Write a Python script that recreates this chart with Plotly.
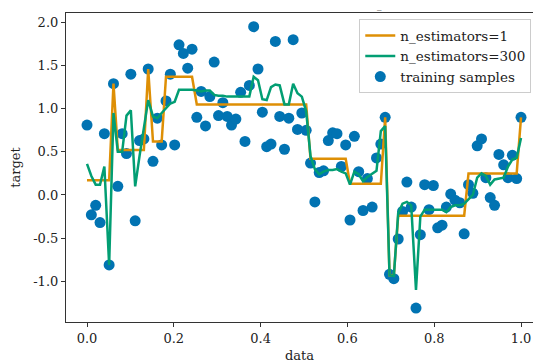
import plotly.graph_objects as go

x_vals = [0.000,0.010,0.020,0.030,0.040,0.051,0.061,0.071,0.081,0.091,
          0.101,0.111,0.121,0.131,0.141,0.152,0.162,0.172,0.182,0.192,
          0.202,0.212,0.222,0.232,0.242,0.253,0.263,0.273,0.283,0.293,
          0.303,0.313,0.323,0.333,0.343,0.354,0.364,0.374,0.384,0.394,
          0.404,0.414,0.424,0.434,0.444,0.455,0.465,0.475,0.485,0.495,
          0.505,0.515,0.525,0.535,0.545,0.556,0.566,0.576,0.586,0.596,
          0.606,0.616,0.626,0.636,0.646,0.657,0.667,0.677,0.687,0.697,
          0.707,0.717,0.727,0.737,0.747,0.758,0.768,0.778,0.788,0.798,
          0.808,0.818,0.828,0.838,0.848,0.859,0.869,0.879,0.889,0.899,
          0.909,0.919,0.929,0.939,0.949,0.960,0.970,0.980,0.990,1.000]

y_samples = [0.81,-0.23,-0.12,-0.32,0.71,-0.81,1.29,0.10,0.71,0.48,
             1.40,-0.30,0.63,0.65,1.46,0.39,0.89,0.58,1.09,1.40,
             0.58,1.74,1.64,1.47,1.69,0.90,1.20,0.80,1.14,1.54,
             0.92,1.07,0.91,0.81,0.88,1.19,0.62,1.27,1.95,1.46,
             0.96,0.56,0.59,1.78,0.91,0.53,0.89,1.80,0.76,0.95,
             0.75,0.37,-0.08,0.26,0.28,0.63,0.72,0.71,0.33,0.58,
             -0.29,0.68,0.27,-0.18,0.19,-0.14,0.43,0.59,0.90,-0.92,
             -0.97,-0.51,-0.19,0.15,-0.14,-1.31,-0.46,0.12,-0.17,0.11,
             -0.38,-0.35,-0.14,0.01,-0.06,-0.09,-0.45,0.12,0.02,0.57,
             0.65,0.20,-0.03,-0.12,0.47,0.35,0.20,0.46,0.19,0.90]

y_n1 = [0.17,0.17,0.17,0.17,0.17,0.17,1.29,0.52,0.52,0.52,
        0.52,0.52,0.52,0.52,1.46,0.62,0.62,0.62,1.37,1.37,
        1.37,1.37,1.37,1.37,1.37,1.05,1.05,1.05,1.05,1.05,
        1.05,1.05,1.05,1.05,1.05,1.05,1.05,1.05,1.05,1.05,
        1.05,1.05,1.05,1.05,1.05,1.05,1.05,1.05,1.05,1.05,
        1.05,0.42,0.42,0.42,0.42,0.42,0.42,0.42,0.42,0.42,
        0.13,0.13,0.13,0.13,0.13,0.13,0.13,0.13,0.90,-0.93,
        -0.93,-0.24,-0.24,-0.24,-0.24,-0.24,-0.24,-0.24,-0.24,-0.24,
        -0.24,-0.24,-0.24,-0.24,-0.24,-0.24,-0.24,0.25,0.25,0.25,
        0.25,0.25,0.25,0.25,0.25,0.25,0.25,0.25,0.25,0.90]

y_n300 = [0.36,0.22,0.12,0.12,0.33,-0.81,0.95,0.50,0.50,0.92,
          0.98,0.10,0.45,0.78,1.10,0.91,0.89,0.95,1.00,1.06,
          1.08,1.22,1.22,1.22,1.22,1.21,1.20,1.21,1.21,1.16,
          1.15,1.15,1.14,1.14,1.14,1.14,1.14,1.14,1.37,1.33,
          1.11,1.10,1.25,1.28,1.27,1.05,1.05,1.29,1.18,1.14,
          0.97,0.45,0.30,0.24,0.27,0.29,0.29,0.30,0.27,0.25,
          0.12,0.27,0.24,0.16,0.21,0.25,0.28,0.74,0.80,-0.93,
          -0.94,-0.21,-0.10,-0.08,-0.12,-1.10,-0.25,-0.17,-0.17,-0.17,
          -0.17,-0.17,-0.20,-0.14,-0.12,-0.12,-0.10,-0.05,0.00,0.20,
          0.25,0.22,0.12,0.18,0.19,0.20,0.33,0.41,0.43,0.66]

x_ticks = [0.0, 0.2, 0.4, 0.6, 0.8, 1.0]
x_ticktext = ["0.0", "0.2", "0.4", "0.6", "0.8", "1.0"]
y_ticks = [-1.0, -0.5, 0.0, 0.5, 1.0, 1.5, 2.0]
y_ticktext = ["-1.0", "-0.5", "0.0", "0.5", "1.0", "1.5", "2.0"]

BLUE = "#0173b2"
ORANGE = "#de8f05"
GREEN = "#029e73"
FONT = "DejaVu Serif"

fig = go.Figure()
fig.add_trace(go.Scatter(x=x_vals, y=y_samples, mode="markers", name="training samples",
                         marker=dict(color=BLUE, size=11, line=dict(width=0)), legendrank=3))
fig.add_trace(go.Scatter(x=x_vals, y=y_n1, mode="lines", name="n_estimators=1",
                         line=dict(color=ORANGE, width=2.5), legendrank=1))
fig.add_trace(go.Scatter(x=x_vals, y=y_n300, mode="lines", name="n_estimators=300",
                         line=dict(color=GREEN, width=2.5), legendrank=2))

fig.update_layout(
    width=533, height=363,
    margin=dict(l=66, r=0, t=13, b=41),
    paper_bgcolor="white", plot_bgcolor="white",
    font=dict(family=FONT, size=13, color="#222"),
    showlegend=True,
    legend=dict(x=0.628, y=0.98, xanchor="left", yanchor="top",
                bgcolor="rgba(255,255,255,0.85)", bordercolor="#cccccc", borderwidth=1,
                font=dict(family=FONT, size=13.5, color="#222"),
                itemwidth=30, tracegroupgap=0),
    xaxis=dict(range=[-0.0484, 1.0276], tickvals=x_ticks, ticktext=x_ticktext,
               showgrid=False, zeroline=False, showline=True, mirror=True,
               linecolor="#333", linewidth=1.2, ticks="outside", ticklen=4,
               tickcolor="#333", tickfont=dict(family=FONT, size=13),
               automargin=False,
               title=dict(text="data", standoff=6, font=dict(family=FONT, size=13))),
    yaxis=dict(range=[-1.472, 2.109], tickvals=y_ticks, ticktext=y_ticktext,
               showgrid=False, zeroline=False, showline=True, mirror=False,
               linecolor="#333", linewidth=1.2, ticks="outside", ticklen=4,
               tickcolor="#333", tickfont=dict(family=FONT, size=13),
               automargin=False,
               title=dict(text="target", standoff=9, font=dict(family=FONT, size=13))),
)

fig.add_annotation(text="_", xref="paper", yref="paper", x=0.672, y=1.0,
                   xanchor="center", yanchor="bottom", showarrow=False,
                   font=dict(family=FONT, size=9, color="#222"))

fig.write_html("out.html", config={"displayModeBar": False},
               post_script="document.body.style.margin='0';document.body.style.padding='0';document.body.style.overflow='hidden';")
